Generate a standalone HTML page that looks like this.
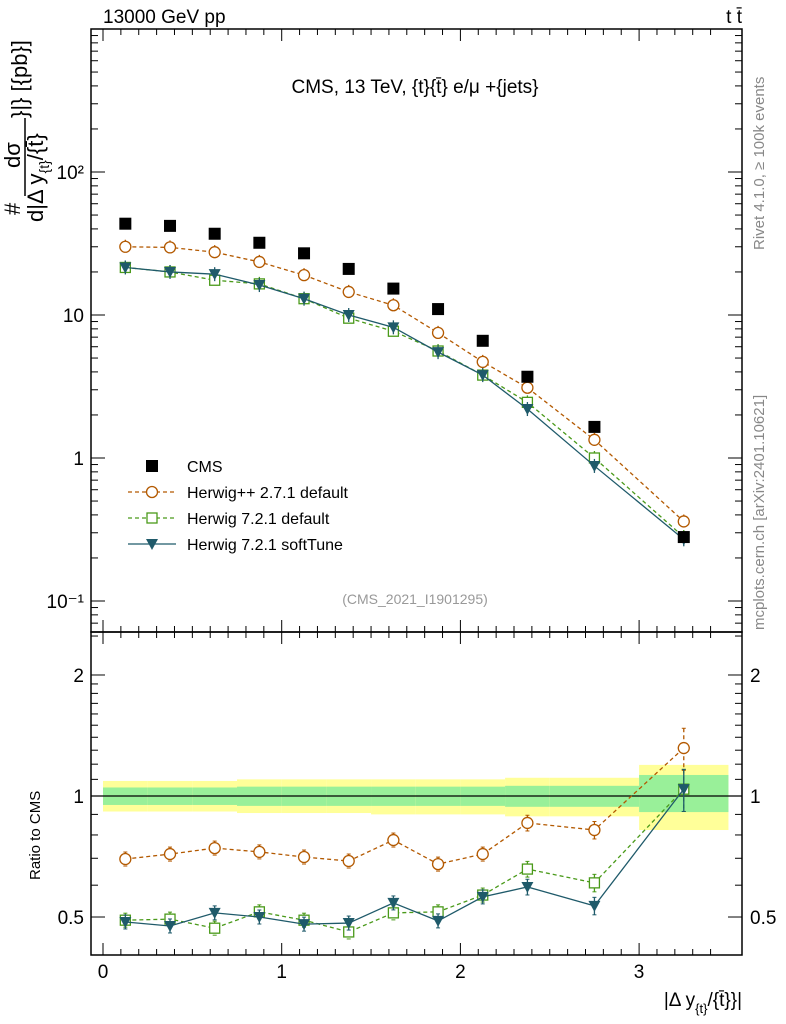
<!DOCTYPE html>
<html><head><meta charset="utf-8"><style>
body{margin:0;background:#fff;}
svg{display:block;font-family:"Liberation Sans",sans-serif;}
</style></head><body>
<svg id="c" width="786" height="1024"></svg>
<script>
const xCenters=[0.125,0.375,0.625,0.875,1.125,1.375,1.625,1.875,2.125,2.375,2.75,3.25];
const xEdges=[0,0.25,0.5,0.75,1,1.25,1.5,1.75,2,2.25,2.5,3,3.5];
const cmsVals=[43.5,42,37,32,27,21,15.3,11,6.6,3.7,1.65,0.28];
const hppVals=[30,29.7,27.5,23.5,19,14.5,11.7,7.5,4.7,3.1,1.34,0.36];
const h7Vals=[21.5,20,17.5,16.5,13,9.5,7.7,5.6,3.8,2.45,1.0,0.28];
const softVals=[21.5,20,19.3,16.2,13,10,8.2,5.5,3.8,2.2,0.88,0.27];
const hppRatio=[0.697,0.717,0.742,0.726,0.705,0.689,0.777,0.677,0.717,0.857,0.823,1.316];
const h7Ratio=[0.491,0.494,0.469,0.515,0.491,0.459,0.512,0.515,0.567,0.658,0.608,1.04];
const softRatio=[0.486,0.475,0.512,0.5,0.48,0.483,0.542,0.489,0.561,0.594,0.533,1.04];
const greenUp=[1.05,1.05,1.05,1.055,1.055,1.055,1.055,1.055,1.055,1.06,1.06,1.128];
const greenDn=[0.95,0.95,0.95,0.945,0.945,0.945,0.945,0.945,0.945,0.94,0.94,0.912];
const yellowUp=[1.09,1.09,1.09,1.1,1.1,1.1,1.1,1.1,1.1,1.11,1.11,1.195];
const yellowDn=[0.915,0.915,0.915,0.907,0.907,0.907,0.9,0.9,0.9,0.89,0.89,0.823];
const ratioErr=[0.02,0.02,0.02,0.02,0.025,0.025,0.03,0.03,0.035,0.045,0.05,0.12];
const xTicks=[0,1,2,3];
const yTicksMain=[[0.1,"10\u207B\u00B9"],[1,"1"],[10,"10"],[100,"10\u00B2"]];
const yTicksRatio=[[0.5,"0.5"],[1,"1"],[2,"2"]];

const NS="http://www.w3.org/2000/svg";
const svg=document.getElementById('c');
function el(t,a,p){const e=document.createElementNS(NS,t);for(const k in a)e.setAttribute(k,a[k]);(p||svg).appendChild(e);return e;}
const L=91,R=742,T=29,M=632,B=955;
const X=v=>103+v*178.7;
const Y=v=>172-(Math.log10(v)-2)*143;
const YR=v=>796-Math.log10(v)*402;

for(let i=0;i<xCenters.length;i++){
  const x0=X(xEdges[i]),x1=X(xEdges[i+1]);
  let r=el('rect',{x:x0,y:YR(yellowUp[i]),width:x1-x0,height:YR(yellowDn[i])-YR(yellowUp[i]),fill:'#ffff99'});
  
  r=el('rect',{x:x0,y:YR(greenUp[i]),width:x1-x0,height:YR(greenDn[i])-YR(greenUp[i]),fill:'#99f099'});
  
}
el('line',{x1:L,x2:R,y1:YR(1),y2:YR(1),stroke:'#000','stroke-width':1.2});

el('rect',{x:L,y:T,width:R-L,height:M-T,fill:'none',stroke:'#000','stroke-width':1.5});
el('rect',{x:L,y:M,width:R-L,height:B-M,fill:'none',stroke:'#000','stroke-width':1.5});

for(const f of [[T,1],[M,-1],[M,1],[B,-1]]){
  for(let v=0;v<=3.5;v+=0.1){const x=X(v);const big=Math.abs(v-Math.round(v))<1e-6;
    el('line',{x1:x,x2:x,y1:f[0],y2:f[0]+f[1]*(big?12:6),stroke:'#000'});}
}
xTicks.forEach(v=>{const t=el('text',{x:X(v),y:978,'font-size':19,'text-anchor':'middle'});t.textContent=v;
  });
for(let d=-2;d<=2;d++)for(let m=1;m<10;m++){const v=m*Math.pow(10,d);const y=Y(v);if(y<T||y>M)continue;
  const len=m==1?14:7;el('line',{x1:L,x2:L+len,y1:y,y2:y,stroke:'#000'});el('line',{x1:R,x2:R-len,y1:y,y2:y,stroke:'#000'});}
yTicksMain.forEach(([v,s])=>{const t=el('text',{x:84,y:Y(v)+7,'font-size':19,'text-anchor':'end'});t.textContent=s;
  });
for(let v=0.4;v<=2.6;v+=(v<1-1e-9?0.1:(v<2-1e-9?0.1:0.5))){const y=YR(v);if(y<M||y>B)continue;
  const big=[0.5,1,2].some(q=>Math.abs(q-v)<1e-6);const len=big?14:7;
  el('line',{x1:L,x2:L+len,y1:y,y2:y,stroke:'#000'});el('line',{x1:R,x2:R-len,y1:y,y2:y,stroke:'#000'});}
yTicksRatio.forEach(([v,s])=>{for(const [x,a] of [[84,'end'],[750,'start']]){const t=el('text',{x:x,y:YR(v)+7,'font-size':19,'text-anchor':a});t.textContent=s;
  }});

function marker(type,x,y,col,name){
  let e;
  if(type=='sq') e=el('rect',{x:x-6,y:y-6,width:12,height:12,fill:'#000'});
  if(type=='circ') e=el('circle',{cx:x,cy:y,r:5.5,fill:'#fff',stroke:col,'stroke-width':1.3});
  if(type=='osq') e=el('rect',{x:x-5,y:y-5,width:10,height:10,fill:'#fff',stroke:col,'stroke-width':1.3});
  if(type=='tri') e=el('path',{d:`M${x-6},${y-5}L${x+6},${y-5}L${x},${y+6}Z`,fill:col});
  
}
function series(vals,yf,col,dash,type,name,err){
  const pts=vals.map((v,i)=>[X(xCenters[i]),yf(v)]);
  const p=el('polyline',{points:pts.map(q=>q.join(',')).join(' '),fill:'none',stroke:col,'stroke-width':1.3,'stroke-dasharray':dash});
  
  pts.forEach((q,i)=>{
    let y1=q[1]-7,y2=q[1]+7;
    if(err){y1=yf(vals[i]*(1+err[i]));y2=yf(vals[i]*(1-err[i]));y1=Math.min(y1,q[1]-7);y2=Math.max(y2,q[1]+7);
      el('line',{x1:q[0]-2,x2:q[0]+2,y1:y1,y2:y1,stroke:col});el('line',{x1:q[0]-2,x2:q[0]+2,y1:y2,y2:y2,stroke:col});}
    el('line',{x1:q[0],x2:q[0],y1:y1,y2:y2,stroke:col,'stroke-width':1.3,'stroke-dasharray':dash});
    marker(type,q[0],q[1],col,name+'-point');});
}
const cB='#b35900',cG='#4a9a1a',cT='#1f5a6a';
series(hppVals,Y,cB,'4,3','circ','herwigpp');
series(h7Vals,Y,cG,'4,3','osq','herwig7-default');
series(softVals,Y,cT,'none','tri','herwig7-softtune');
cmsVals.forEach((v,i)=>marker('sq',X(xCenters[i]),Y(v),'#000','cms-point'));
series(hppRatio,YR,cB,'4,3','circ','ratio-herwigpp',ratioErr);
series(h7Ratio,YR,cG,'4,3','osq','ratio-herwig7-default',ratioErr);
series(softRatio,YR,cT,'none','tri','ratio-herwig7-softtune',ratioErr);

const leg=[['sq','#000','none','CMS'],['circ',cB,'4,3','Herwig++ 2.7.1 default'],['osq',cG,'4,3','Herwig 7.2.1 default'],['tri',cT,'none','Herwig 7.2.1 softTune']];
leg.forEach((l,i)=>{const y=466+i*26;
  if(l[0]!='sq')el('line',{x1:128,x2:176,y1:y,y2:y,stroke:l[1],'stroke-width':1.3,'stroke-dasharray':l[2]});
  marker(l[0],152,y,l[1],'legend-marker');
  const t=el('text',{x:187,y:y+6,'font-size':16});t.textContent=l[3];
  });

function txt(x,y,s,size,attrs,name){const t=el('text',Object.assign({x:x,y:y,'font-size':size},attrs||{}));t.textContent=s;
  return t;}
txt(103,23,'13000 GeV pp',19,{},'header-left');
txt(742,23,'t t\u0304',19,{'text-anchor':'end'},'header-right');
txt(415,93,'CMS, 13 TeV, {t}{t\u0304} e/\u03BC +{jets}',19,{'text-anchor':'middle'},'plot-title');
txt(415,604,'(CMS_2021_I1901295)',14,{'text-anchor':'middle',fill:'#999'},'analysis-id');
txt(764,250,'Rivet 4.1.0, \u2265 100k events',15,{transform:'rotate(-90 764 250)',fill:'#888'},'rivet-label');
txt(764,630,'mcplots.cern.ch [arXiv:2401.10621]',15,{transform:'rotate(-90 764 630)',fill:'#888'},'mcplots-label');
txt(40,880,'Ratio to CMS',15,{transform:'rotate(-90 40 880)'},'ratio-y-title');
// y-axis title (fraction)
txt(20,215,'#',22,{transform:'rotate(-90 20 215)'},'y-axis-title-hash');
txt(20,168,'d\u03C3',22,{transform:'rotate(-90 20 168)'},'y-axis-title-numerator');
el('line',{x1:25,x2:25,y1:196,y2:118,stroke:'#000','stroke-width':1.5});
txt(27,118,'}|} [{pb}]',22,{transform:'rotate(-90 27 118)'},'y-axis-title-unit');
const yt=el('text',{x:43,y:222,'font-size':22,transform:'rotate(-90 43 222)'});

yt.innerHTML='d|\u0394 y<tspan font-size="14" dy="6">{t}</tspan><tspan dy="-6">/{t\u0304}</tspan>';
const xt=el('text',{x:742,y:1006,'font-size':19,'text-anchor':'end'});

xt.innerHTML='|\u0394 y<tspan font-size="13" dy="7">{t}</tspan><tspan dy="-7">/{t\u0304}}|</tspan>';
</script>
</body></html>
